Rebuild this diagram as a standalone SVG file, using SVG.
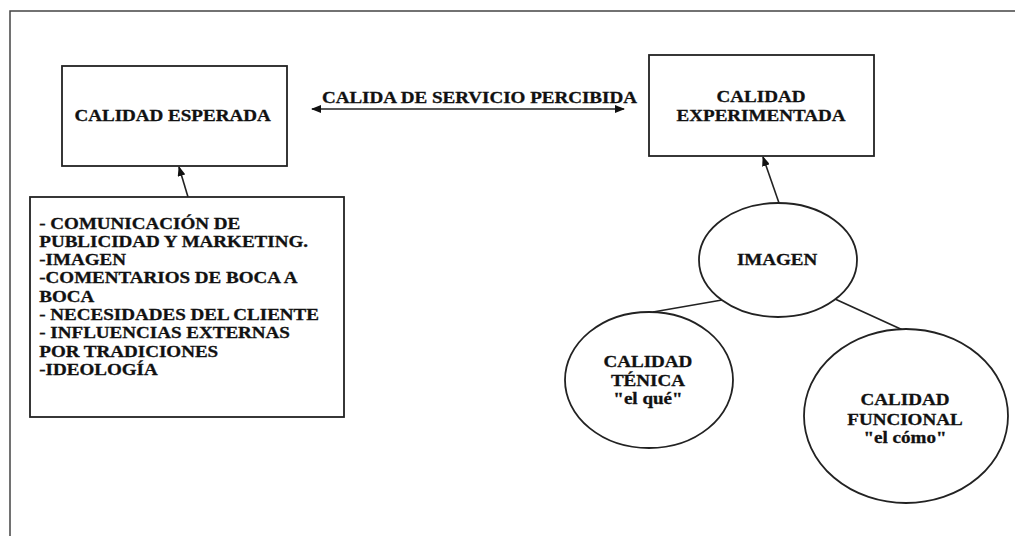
<svg xmlns="http://www.w3.org/2000/svg" width="1015" height="536" viewBox="0 0 1015 536">
<defs>
<marker id="ah" markerWidth="10" markerHeight="8" refX="9" refY="4" orient="auto-start-reverse" markerUnits="userSpaceOnUse">
<path d="M0,0 L10,4 L0,8 Z" fill="#111"/>
</marker>
<style>
.box{fill:#fff;stroke:#222;stroke-width:1.8}
.frame{fill:none;stroke:#444;stroke-width:1.5}
.t{font-family:"Liberation Serif","Times New Roman",serif;font-weight:bold;font-size:16px;fill:#111;stroke:#111;stroke-width:0.3}
.c{text-anchor:middle}
.con{stroke:#222;stroke-width:1.6;fill:none}
</style>
</defs>
<rect width="1015" height="536" fill="#fff"/>
<path class="frame" d="M10,536 L10,11 L1015,11"/>
<g id="connectors">
<line class="con" x1="312" y1="109" x2="624" y2="109" marker-start="url(#ah)" marker-end="url(#ah)"/>
<line class="con" x1="188" y1="197" x2="179" y2="167" marker-end="url(#ah)"/>
<line class="con" x1="779" y1="203" x2="763" y2="157" marker-end="url(#ah)"/>
<line class="con" x1="722" y1="300" x2="653" y2="312"/>
<line class="con" x1="835" y1="299" x2="905" y2="331"/>
</g>
<g id="label-percibida">
<text class="t c" transform="scale(1.19,1)" x="402.9" y="103">CALIDA DE SERVICIO PERCIBIDA</text>
</g>
<g id="calidad-esperada">
<rect class="box" x="62" y="66" width="225" height="100"/>
<text class="t c" transform="scale(1.19,1)" x="145" y="121">CALIDAD ESPERADA</text>
</g>
<g id="calidad-experimentada">
<rect class="box" x="649" y="55" width="225" height="101"/>
<text class="t c" transform="scale(1.19,1)" x="639.5" y="102">CALIDAD</text>
<text class="t c" transform="scale(1.19,1)" x="639.5" y="121">EXPERIMENTADA</text>
</g>
<g id="factores">
<rect class="box" x="30" y="197" width="314" height="220"/>
<g transform="scale(1.19,1)">
<text class="t" x="33" y="229">- COMUNICACIÓN DE</text>
<text class="t" x="33" y="247">PUBLICIDAD Y MARKETING.</text>
<text class="t" x="33" y="265">-IMAGEN</text>
<text class="t" x="33" y="283">-COMENTARIOS DE BOCA A</text>
<text class="t" x="33" y="302">BOCA</text>
<text class="t" x="33" y="320">- NECESIDADES DEL CLIENTE</text>
<text class="t" x="33" y="338">- INFLUENCIAS EXTERNAS</text>
<text class="t" x="33" y="357">POR TRADICIONES</text>
<text class="t" x="33" y="375">-IDEOLOGÍA</text>
</g>
</g>
<g id="imagen">
<ellipse class="box" cx="778" cy="260" rx="79" ry="57"/>
<text class="t c" transform="scale(1.19,1)" x="653" y="265">IMAGEN</text>
</g>
<g id="calidad-tecnica">
<ellipse class="box" cx="649" cy="380" rx="84" ry="68"/>
<text class="t c" transform="scale(1.19,1)" x="544.5" y="367">CALIDAD</text>
<text class="t c" transform="scale(1.19,1)" x="544.5" y="386">TÉNICA</text>
<text class="t c" transform="scale(1.19,1)" x="544.5" y="404">"el qué"</text>
</g>
<g id="calidad-funcional">
<ellipse class="box" cx="906" cy="416" rx="102" ry="87"/>
<text class="t c" transform="scale(1.19,1)" x="760.5" y="405">CALIDAD</text>
<text class="t c" transform="scale(1.19,1)" x="760.5" y="425">FUNCIONAL</text>
<text class="t c" transform="scale(1.19,1)" x="760.5" y="443">"el cómo"</text>
</g>
</svg>
